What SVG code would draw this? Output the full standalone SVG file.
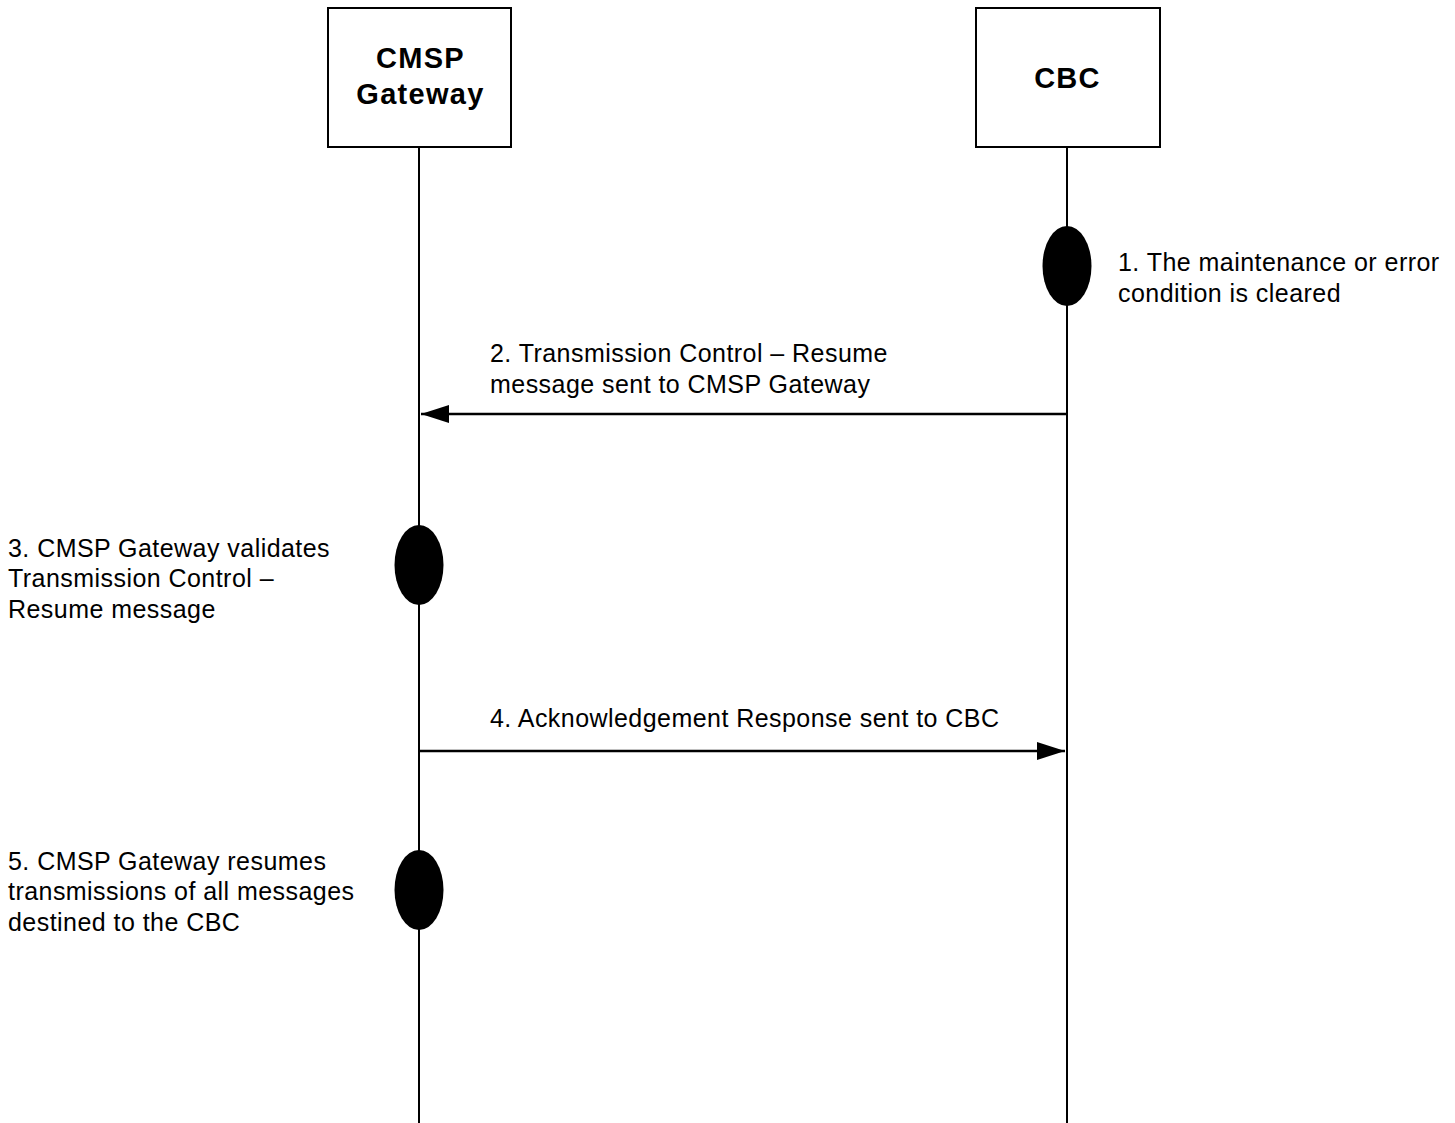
<svg xmlns="http://www.w3.org/2000/svg" width="1455" height="1123" viewBox="0 0 1455 1123">
  <style>
    .box { fill: #ffffff; stroke: #000000; stroke-width: 2; }
    .life { stroke: #000000; stroke-width: 2; fill: none; }
    .msg { stroke: #000000; stroke-width: 2.5; fill: none; }
    .act { fill: #000000; }
    .title { font-family: "Liberation Sans", Arial, sans-serif; font-size: 29px; font-weight: bold; letter-spacing: 1.3px; fill: #000000; text-anchor: middle; }
    .label { font-family: "Liberation Sans", Arial, sans-serif; font-size: 25px; letter-spacing: 0.45px; fill: #000000; }
  </style>
  <defs>
    <marker id="arrow" viewBox="0 0 28 18" refX="28" refY="9" markerWidth="28" markerHeight="18" markerUnits="userSpaceOnUse" orient="auto">
      <path d="M0,0 L28,9 L0,18 Z" fill="#000000"/>
    </marker>
  </defs>

  <rect width="1455" height="1123" fill="#ffffff"/>

  <!-- lifelines -->
  <g id="lifelines">
    <line class="life" x1="419" y1="147" x2="419" y2="1123"/>
    <line class="life" x1="1067" y1="147" x2="1067" y2="1123"/>
  </g>

  <!-- participants -->
  <g id="cmsp-gateway">
    <rect class="box" x="328" y="8" width="183" height="139"/>
    <text class="title" x="420.5" y="68">CMSP</text>
    <text class="title" x="420.5" y="104">Gateway</text>
  </g>
  <g id="cbc">
    <rect class="box" x="976" y="8" width="184" height="139"/>
    <text class="title" x="1067.5" y="88">CBC</text>
  </g>

  <!-- step 1 -->
  <g id="step1">
    <ellipse class="act" cx="1067" cy="266" rx="24.5" ry="40"/>
    <text class="label" x="1118" y="271">1. The maintenance or error</text>
    <text class="label" x="1118" y="302">condition is cleared</text>
  </g>

  <!-- step 3 -->
  <g id="step3">
    <ellipse class="act" cx="419" cy="565" rx="24.5" ry="40"/>
    <text class="label" x="8" y="557">3. CMSP Gateway validates</text>
    <text class="label" x="8" y="587">Transmission Control –</text>
    <text class="label" x="8" y="618">Resume message</text>
  </g>

  <!-- step 5 -->
  <g id="step5">
    <ellipse class="act" cx="419" cy="890" rx="24.5" ry="40"/>
    <text class="label" x="8" y="870">5. CMSP Gateway resumes</text>
    <text class="label" x="8" y="900">transmissions of all messages</text>
    <text class="label" x="8" y="931">destined to the CBC</text>
  </g>

  <!-- messages -->
  <g id="connectors">
    <g id="msg2">
      <line class="msg" x1="1067" y1="414" x2="421" y2="414" marker-end="url(#arrow)"/>
      <text class="label" x="490" y="362">2. Transmission Control – Resume</text>
      <text class="label" x="490" y="393">message sent to CMSP Gateway</text>
    </g>
    <g id="msg4">
      <line class="msg" x1="419" y1="751" x2="1065" y2="751" marker-end="url(#arrow)"/>
      <text class="label" x="490" y="727">4. Acknowledgement Response sent to CBC</text>
    </g>
  </g>
</svg>
